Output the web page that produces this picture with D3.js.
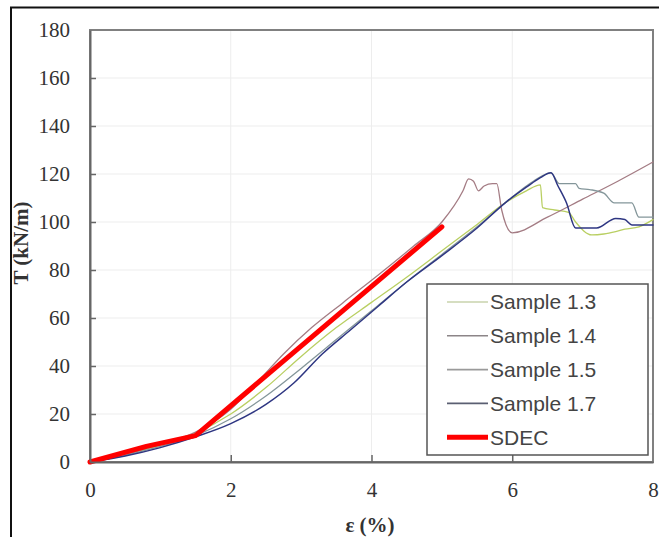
<!DOCTYPE html>
<html>
<head>
<meta charset="utf-8">
<script src="https://cdn.jsdelivr.net/npm/d3@7"></script>
<style>
  body { margin: 0; background: #fff; }
  svg { display: block; }
  .serif { font-family: "Liberation Serif", "Times New Roman", serif; }
</style>
</head>
<body>
<div id="chart"></div>
<script>
// strain (%) vs tensile force (kN/m)
const sample13 = [[0,0],[0.5,3],[1,7],[1.5,12],[2,20],[2.5,31],[3,44],[3.5,56],[4,66.5],[4.5,77],[5,88],[5.5,99],[5.9,108],[6.2,113],[6.4,115.5],[6.43,106],[6.6,105],[6.8,104],[6.9,100],[7.13,94.6],[7.3,95],[7.47,96],[7.6,97],[7.8,98],[8,101]];
const sample14 = [[0,0],[0.5,3],[1,7.5],[1.5,12.5],[2,22],[2.4,34],[2.75,45],[3.15,56],[3.6,66.5],[4.1,78],[4.6,90],[5,100],[5.3,113],[5.38,118],[5.45,117],[5.52,113],[5.6,115],[5.72,116],[5.78,116],[5.85,105],[6.0,95.5],[6.5,102],[7,109.5],[7.5,117],[8,125]];
const sample15 = [[0,0],[0.5,2.8],[1,6.5],[1.5,11],[2,18],[2.5,27.5],[3,39],[3.5,51],[4,63],[4.5,75],[5,86.5],[5.5,98],[5.9,108],[6.3,117],[6.55,120.5],[6.67,116],[6.9,116],[6.95,114],[7.1,113.5],[7.3,112],[7.45,108],[7.7,108],[7.8,102],[8,102]];
const sample17 = [[0,0],[0.5,2.5],[1,6],[1.5,10.5],[2,16],[2.5,24],[2.9,33],[3.3,45],[3.7,55],[4.1,65],[4.5,75],[5,86],[5.5,97.5],[5.9,108],[6.2,114.5],[6.4,118.5],[6.55,120.5],[6.65,115],[6.77,108],[6.9,97.5],[7.2,97.5],[7.47,101.5],[7.6,101],[7.7,98.8],[8,98.8]];
const sdec = [[0,0],[0.8,6.5],[1.5,11],[5,98]];

const seriesNames = ['Sample 1.3', 'Sample 1.4', 'Sample 1.5', 'Sample 1.7', 'SDEC'];
const seriesData = [sample13, sample14, sample15, sample17, sdec];
const seriesColors = ['#b9cf62', '#a47c84', '#84969a', '#2e3682', '#ff0000'];
const seriesWidths = [1.3, 1.3, 1.3, 1.5, 5];
const legendColors = ['#c9d3ad', '#8c8588', '#9a9a9a', '#5a5f72', '#ff0000'];

const xTicks = [0, 2, 4, 6, 8];
const yTicks = [0, 20, 40, 60, 80, 100, 120, 140, 160, 180];

const width = 659, height = 537;
const svg = d3.select('#chart').append('svg')
    .attr('width', width)
    .attr('height', height);

// outer frame of the figure
svg.append('rect')
    .attr('x', 11).attr('y', 7.5)
    .attr('width', 700).attr('height', 600)
    .attr('fill', 'none')
    .attr('stroke', '#111')
    .attr('stroke-width', 2);

const x = d3.scaleLinear().domain([0, 8]).range([90, 653]);
const y = d3.scaleLinear().domain([0, 180]).range([462, 30]);

// faint grid
svg.append('g')
    .selectAll('line')
    .data(xTicks.slice(1, -1))
    .enter().append('line')
    .attr('x1', d => x(d)).attr('x2', d => x(d))
    .attr('y1', y(180)).attr('y2', y(0))
    .attr('stroke', '#ededed');

svg.append('g')
    .selectAll('line')
    .data(yTicks.slice(1, -1))
    .enter().append('line')
    .attr('x1', x(0)).attr('x2', x(8))
    .attr('y1', d => y(d)).attr('y2', d => y(d))
    .attr('stroke', '#ededed');

// plot border
svg.append('rect')
    .attr('x', x(0)).attr('y', y(180))
    .attr('width', x(8) - x(0)).attr('height', y(0) - y(180))
    .attr('fill', 'none')
    .attr('stroke', '#808080')
    .attr('stroke-width', 2);

// measured curves are smooth, SDEC is a polyline
const smoothLine = d3.line()
    .curve(d3.curveMonotoneX)
    .x(d => x(d[0]))
    .y(d => y(d[1]));
const straightLine = d3.line()
    .x(d => x(d[0]))
    .y(d => y(d[1]));

svg.append('g')
    .selectAll('path')
    .data(seriesData)
    .enter().append('path')
    .attr('d', (d, i) => i === 4 ? straightLine(d) : smoothLine(d))
    .attr('fill', 'none')
    .attr('stroke', (d, i) => seriesColors[i])
    .attr('stroke-width', (d, i) => seriesWidths[i])
    .attr('stroke-linejoin', 'round')
    .attr('stroke-linecap', 'round');

// axes with inward ticks
const xAxis = svg.append('g')
    .attr('transform', `translate(0,${y(0)})`)
    .call(d3.axisBottom(x).tickValues(xTicks).tickSizeInner(-7).tickSizeOuter(0).tickPadding(20));
const yAxis = svg.append('g')
    .attr('transform', `translate(${x(0)},0)`)
    .call(d3.axisLeft(y).tickValues(yTicks).tickSizeInner(-6).tickSizeOuter(0).tickPadding(20));

[xAxis, yAxis].forEach(g => {
    g.attr('font-family', '"Liberation Serif", "Times New Roman", serif')
        .attr('font-size', 21);
    g.select('.domain').attr('stroke', '#666').attr('stroke-width', 2);
    g.selectAll('.tick line').attr('stroke', '#666').attr('stroke-width', 1.5);
    g.selectAll('.tick text')
        .attr('class', 'serif')
        .attr('fill', '#333')
        .style('font-size', '21px');
});
xAxis.selectAll('.tick').filter(d => d === 0 || d === 8).select('line').remove();
yAxis.selectAll('.tick').filter(d => d === 0 || d === 180).select('line').remove();
yAxis.selectAll('.tick text').attr('x', -20);

// axis titles
svg.append('text')
    .attr('class', 'serif')
    .attr('x', 370).attr('y', 532)
    .attr('text-anchor', 'middle')
    .attr('fill', '#333')
    .style('font-size', '21px')
    .style('font-weight', 'bold')
    .text('ε (%)');

svg.append('text')
    .attr('class', 'serif')
    .attr('transform', 'translate(28,243) rotate(-90)')
    .attr('text-anchor', 'middle')
    .attr('fill', '#333')
    .style('font-size', '21px')
    .style('font-weight', 'bold')
    .text('T (kN/m)');

// legend
const legend = svg.append('g');
legend.append('rect')
    .attr('x', 427).attr('y', 284)
    .attr('width', 221).attr('height', 171)
    .attr('fill', '#fff')
    .attr('stroke', '#555')
    .attr('stroke-width', 1.5);

const entry = legend.selectAll('g')
    .data(seriesNames)
    .enter().append('g')
    .attr('transform', (d, i) => `translate(0,${302 + i * 33.8})`);

entry.append('line')
    .attr('x1', 447).attr('x2', 488)
    .attr('stroke', (d, i) => legendColors[i])
    .attr('stroke-width', (d, i) => i === 4 ? 5 : 1.6);

entry.append('text')
    .attr('x', 490)
    .attr('dy', '0.35em')
    .attr('fill', '#444')
    .style('font-family', '"Liberation Sans", Arial, sans-serif')
    .style('font-size', '21px')
    .text(d => d);
</script>
</body>
</html>
